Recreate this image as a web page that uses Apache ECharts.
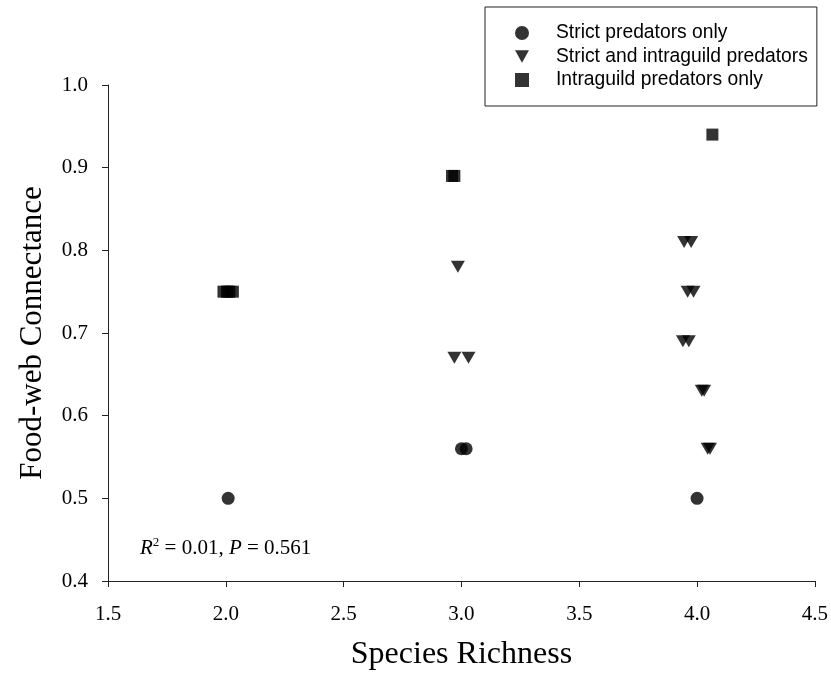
<!DOCTYPE html>
<html><head><meta charset="utf-8">
<script src="https://cdn.jsdelivr.net/npm/echarts@6/dist/echarts.min.js"></script>
<style>html,body{margin:0;padding:0;background:#fff}#c{width:831px;height:677px}</style>
</head><body><div id="c"></div>
<script>
const seriesNames = ['Strict predators only', 'Strict and intraguild predators', 'Intraguild predators only'];
const strictX = [2.01, 3.00, 3.02, 4.00];
const strictY = [0.50, 0.56, 0.56, 0.50];
const bothX = [2.985, 2.97, 3.03, 3.945, 3.975, 3.96, 3.985, 3.94, 3.965, 4.02, 4.03, 4.045, 4.055];
const bothY = [0.78, 0.67, 0.67, 0.81, 0.81, 0.75, 0.75, 0.69, 0.69, 0.63, 0.63, 0.56, 0.56];
const igX = [1.99, 2.005, 2.015, 2.03, 2.96, 2.97, 4.065];
const igY = [0.75, 0.75, 0.75, 0.75, 0.89, 0.89, 0.94];
const xTicks = [1.5, 2.0, 2.5, 3.0, 3.5, 4.0, 4.5];
const yTicks = [0.4, 0.5, 0.6, 0.7, 0.8, 0.9, 1.0];

const pair = (xs, ys) => xs.map((x, i) => [x, ys[i]]);
const downTri = 'path://M0,0 L10,0 L5,9 Z';
const serif = '"Liberation Serif","Times New Roman",serif';
const sans = '"Liberation Sans",Arial,sans-serif';

const chart = echarts.init(document.getElementById('c'));
chart.setOption({
  animation: false,
  backgroundColor: '#fff',
  grid: { left: 108, right: 14, top: 85, bottom: 96 },
  legend: {
    orient: 'vertical', left: 485, top: 7,
    data: seriesNames,
    borderColor: '#222', borderWidth: 1,
    padding: [16, 9, 16, 30],
    itemWidth: 14, itemHeight: 14, itemGap: 3.5,
    textStyle: { fontFamily: sans, fontSize: 19.3, lineHeight: 20, color: '#000', padding: [0, 0, 0, 22] }
  },
  xAxis: {
    type: 'value', min: 1.5, max: 4.5, interval: 0.5,
    name: 'Species Richness', nameLocation: 'middle', nameGap: 58,
    nameTextStyle: { fontFamily: serif, fontSize: 32, color: '#000' },
    axisLine: { show: true, onZero: false, lineStyle: { color: '#222', width: 1 } },
    axisTick: { show: true, length: 6, lineStyle: { color: '#222' } },
    axisLabel: { margin: 23, fontFamily: serif, fontSize: 21, color: '#000', formatter: v => v.toFixed(1) },
    splitLine: { show: false }
  },
  yAxis: {
    type: 'value', min: 0.4, max: 1.0, interval: 0.1,
    name: 'Food-web Connectance', nameLocation: 'middle', nameGap: 60,
    nameTextStyle: { fontFamily: serif, fontSize: 31, color: '#000' },
    axisLine: { show: true, onZero: false, lineStyle: { color: '#222', width: 1 } },
    axisTick: { show: true, length: 6, lineStyle: { color: '#222' } },
    axisLabel: { margin: 20, fontFamily: serif, fontSize: 21, color: '#000', formatter: v => v.toFixed(1) },
    splitLine: { show: false }
  },
  series: [
    { name: seriesNames[0], type: 'scatter', symbol: 'circle', symbolSize: 13,
      itemStyle: { color: '#000' }, data: pair(strictX, strictY) },
    { name: seriesNames[1], type: 'scatter', symbol: downTri, symbolSize: [14, 12],
      itemStyle: { color: '#000' }, data: pair(bothX, bothY) },
    { name: seriesNames[2], type: 'scatter', symbol: 'rect', symbolSize: 12,
      itemStyle: { color: '#000' }, data: pair(igX, igY) }
  ],
  graphic: [{
    type: 'text', left: 140, top: 536,
    style: {
      text: '{i|R}{sup|2}{n| = 0.01, }{i|P}{n| = 0.561}',
      rich: {
        i: { fontFamily: serif, fontSize: 21, fontStyle: 'italic', fill: '#000', verticalAlign: 'bottom' },
        n: { fontFamily: serif, fontSize: 21, fill: '#000', verticalAlign: 'bottom' },
        sup: { fontFamily: serif, fontSize: 13, fill: '#000', verticalAlign: 'top', padding: [0, 0, 10, 0] }
      }
    }
  }]
});
</script></body></html>
